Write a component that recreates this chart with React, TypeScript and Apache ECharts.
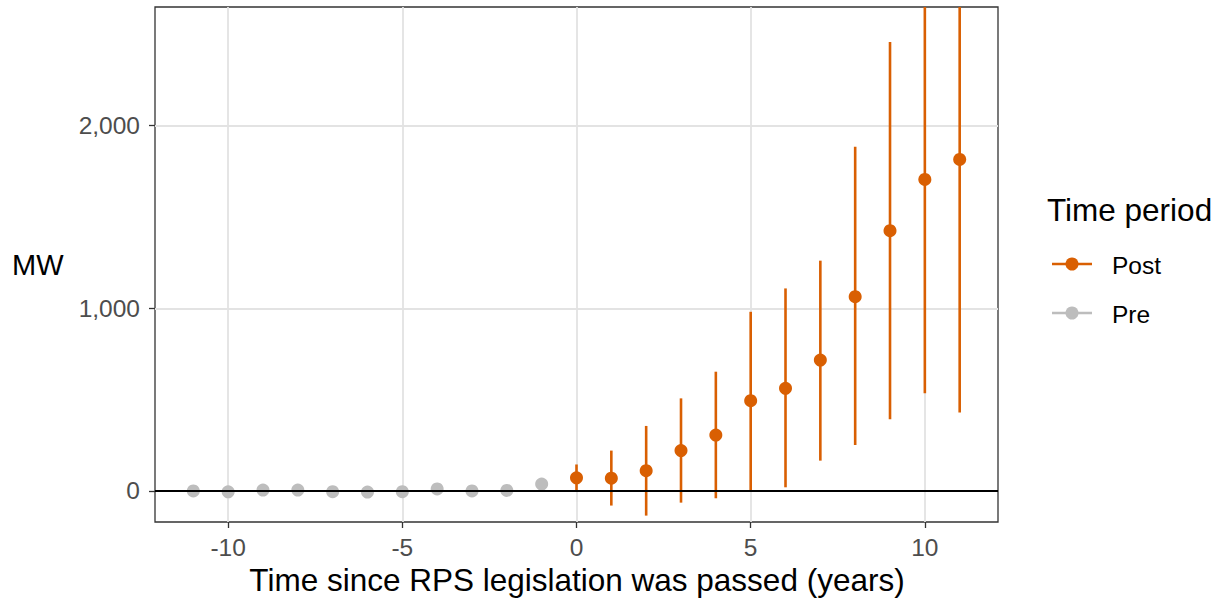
import React, { useEffect, useRef } from "react";
import * as echarts from "echarts";

const preYears = [-11, -10, -9, -8, -7, -6, -5, -4, -3, -2, -1];
const preValues = [0, -5, 5, 5, -4, -6, -4, 11, 0, 3, 38];

const postYears = [0, 1, 2, 3, 4, 5, 6, 7, 8, 9, 10, 11];
const postValues = [72, 70, 111, 221, 306, 494, 562, 717, 1064, 1425, 1706, 1815];
const postLower = [-5, -80, -135, -64, -40, 5, 20, 166, 252, 392, 535, 429];
const postUpper = [145, 221, 356, 507, 653, 981, 1109, 1261, 1885, 2458, 3100, 3400];

const xTitle = "Time since RPS legislation was passed (years)";
const yTitle = "MW";
const legendTitle = "Time period";
const legendNames = ["Post", "Pre"];

const X_MIN = -12.1;
const X_MAX = 12.1;
const Y_MIN = -170;
const Y_MAX = 2650;

const POST_COLOR = "#d95f02";
const PRE_COLOR = "#bdbdbd";
const FONT = "'Liberation Sans', Arial, Helvetica, sans-serif";

export default function App() {
  const ref = useRef<HTMLDivElement>(null);

  useEffect(() => {
    document.body.style.margin = "0";
    if (!ref.current) return;
    const chart = echarts.init(ref.current, null, { renderer: "svg" });

    const errData = postYears.map((x, i) => [x, postLower[i], postUpper[i]]);

    const axisCommon = {
      axisLine: { show: false, onZero: false },
      axisTick: { show: true, length: 6, lineStyle: { color: "#333333", width: 1.3 } },
      splitLine: {
        show: true,
        showMinLine: false,
        showMaxLine: false,
        lineStyle: { color: "#e3e3e3", width: 1.8 },
      },
    };

    const option: any = {
      animation: false,
      backgroundColor: "#ffffff",
      textStyle: { fontFamily: FONT },
      grid: {
        left: 155,
        top: 7,
        width: 843,
        height: 515,
        show: true,
        borderColor: "#333333",
        borderWidth: 1.3,
        backgroundColor: "transparent",
      },
      xAxis: {
        type: "value",
        min: X_MIN,
        max: X_MAX,
        splitNumber: 5,
        ...axisCommon,
        axisLabel: {
          show: true,
          showMinLabel: false,
          showMaxLabel: false,
          color: "#4d4d4d",
          fontSize: 24.5,
          fontFamily: FONT,
          margin: 13,
        },
      },
      yAxis: {
        type: "value",
        min: Y_MIN,
        max: Y_MAX,
        splitNumber: 3,
        ...axisCommon,
        axisLabel: {
          show: true,
          showMinLabel: false,
          showMaxLabel: false,
          color: "#4d4d4d",
          fontSize: 24.5,
          fontFamily: FONT,
          margin: 15,
          formatter: (v: number) => v.toLocaleString("en-US"),
        },
      },
      series: [
        {
          type: "line",
          data: [],
          z: 1,
          silent: true,
          markLine: {
            silent: true,
            symbol: ["none", "none"],
            label: { show: false },
            lineStyle: { color: "#000000", width: 2.2, type: "solid" },
            data: [{ yAxis: 0 }],
          },
        },
        {
          name: "PostErr",
          type: "custom",
          clip: true,
          z: 2,
          data: errData,
          renderItem: (params: any, api: any) => {
            const x = api.value(0);
            const lo = Math.max(api.value(1), Y_MIN);
            const hi = Math.min(api.value(2), Y_MAX);
            const p1 = api.coord([x, lo]);
            const p2 = api.coord([x, hi]);
            return {
              type: "line",
              shape: { x1: p1[0], y1: p1[1], x2: p2[0], y2: p2[1] },
              style: { stroke: POST_COLOR, lineWidth: 2.6 },
            };
          },
        },
        {
          name: legendNames[0],
          type: "scatter",
          z: 3,
          symbolSize: 13,
          itemStyle: { color: POST_COLOR, opacity: 1 },
          data: postYears.map((x, i) => [x, postValues[i]]),
        },
        {
          name: legendNames[1],
          type: "scatter",
          z: 3,
          symbolSize: 13,
          itemStyle: { color: PRE_COLOR, opacity: 1 },
          data: preYears.map((x, i) => [x, preValues[i]]),
        },
      ],
      graphic: [
        {
          type: "text",
          left: 12,
          top: 250,
          style: { text: yTitle, fontSize: 29, fontFamily: FONT, fill: "#000000" },
        },
        {
          type: "text",
          x: 577,
          y: 580,
          style: {
            text: xTitle,
            fontSize: 31.5,
            fontFamily: FONT,
            fill: "#000000",
            align: "center",
            verticalAlign: "middle",
          },
        },
        {
          type: "text",
          x: 1047,
          y: 210,
          style: {
            text: legendTitle,
            fontSize: 31.5,
            fontFamily: FONT,
            fill: "#000000",
            align: "left",
            verticalAlign: "middle",
          },
        },
        {
          type: "line",
          shape: { x1: 1052, y1: 264, x2: 1092, y2: 264 },
          style: { stroke: POST_COLOR, lineWidth: 2.6 },
        },
        {
          type: "circle",
          shape: { cx: 1072, cy: 264, r: 6.5 },
          style: { fill: POST_COLOR },
        },
        {
          type: "text",
          x: 1112,
          y: 265,
          style: {
            text: legendNames[0],
            fontSize: 24.5,
            fontFamily: FONT,
            fill: "#000000",
            align: "left",
            verticalAlign: "middle",
          },
        },
        {
          type: "line",
          shape: { x1: 1052, y1: 313, x2: 1092, y2: 313 },
          style: { stroke: PRE_COLOR, lineWidth: 2.6 },
        },
        {
          type: "circle",
          shape: { cx: 1072, cy: 313, r: 6.5 },
          style: { fill: PRE_COLOR },
        },
        {
          type: "text",
          x: 1112,
          y: 314,
          style: {
            text: legendNames[1],
            fontSize: 24.5,
            fontFamily: FONT,
            fill: "#000000",
            align: "left",
            verticalAlign: "middle",
          },
        },
      ],
    };

    chart.setOption(option);
    return () => chart.dispose();
  }, []);

  return <div ref={ref} style={{ width: 1222, height: 603 }} />;
}
